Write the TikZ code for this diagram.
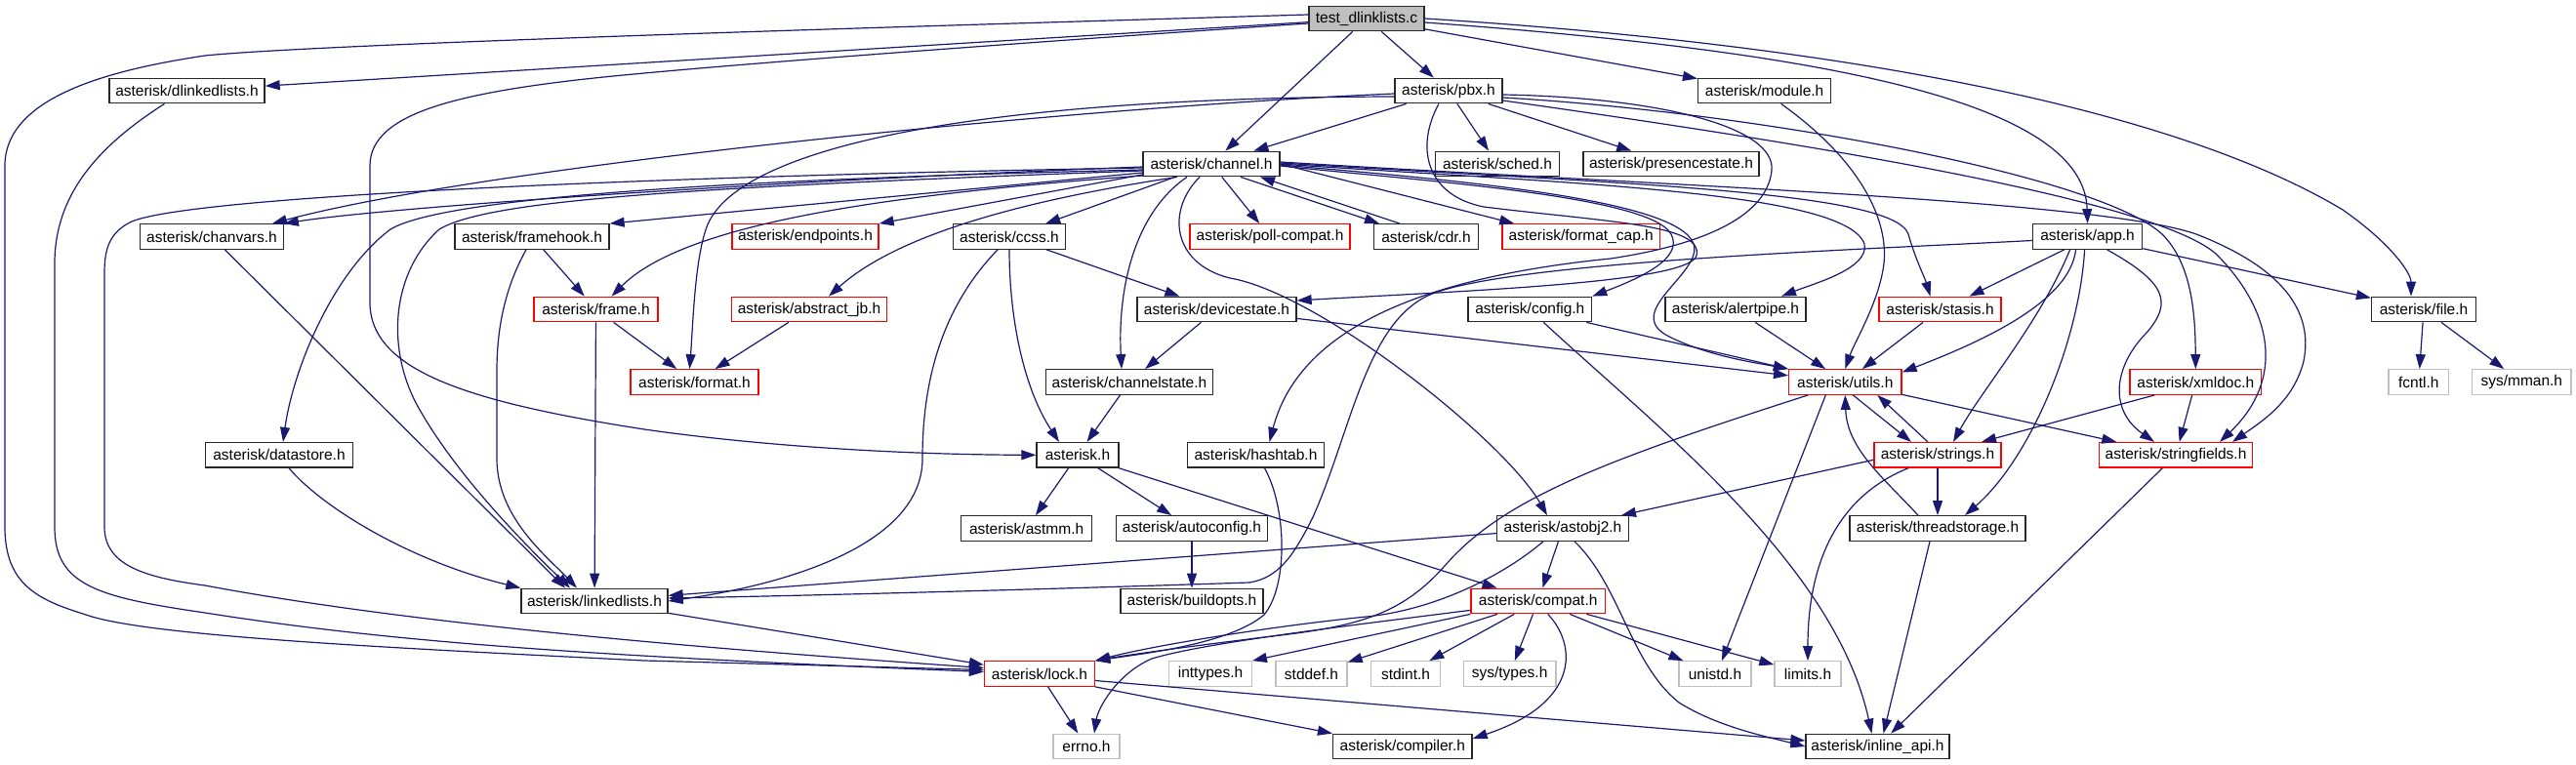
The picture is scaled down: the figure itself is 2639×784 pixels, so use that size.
\documentclass[tikz,border=0pt]{standalone}
\usepackage{fontspec}
\setmainfont{Liberation Sans}
\usetikzlibrary{arrows.meta}
\definecolor{edgeblue}{RGB}{25,25,112}
\definecolor{boxred}{RGB}{255,0,0}
\definecolor{boxgray}{RGB}{191,191,191}
\definecolor{boxblack}{RGB}{40,40,40}
\tikzset{
  hnode/.style={draw=boxblack, line width=1.3pt, rectangle, minimum height=25.5pt, inner sep=0pt, fill=white, font=\fontsize{15.5}{17}\selectfont},
  rednode/.style={hnode, draw=boxred},
  graynode/.style={hnode, draw=boxgray},
  rootnode/.style={hnode, fill=boxgray},
  edge/.style={draw=edgeblue, line width=1.2pt, -{Triangle[length=15pt,width=10pt]}}
}
\begin{document}
\begin{tikzpicture}[x=1pt,y=-1pt]
\useasboundingbox (0,0) rectangle (2639,784);
% nodes
\node[rootnode, minimum width=118pt] (root) at (1400,19) {test\_dlinklists.c};
\node[hnode, minimum width=159pt] (dll) at (191.5,93) {asterisk/dlinkedlists.h};
\node[hnode, minimum width=110pt] (pbx) at (1484,93) {asterisk/pbx.h};
\node[hnode, minimum width=136pt] (module) at (1807.6,93) {asterisk/module.h};
\node[hnode, minimum width=140pt] (channel) at (1241,168) {asterisk/channel.h};
\node[hnode, minimum width=127pt] (sched) at (1534,168) {asterisk/sched.h};
\node[hnode, minimum width=180pt] (presence) at (1712,168) {asterisk/presencestate.h};
\node[hnode, minimum width=146.5pt] (chanvars) at (217,242.5) {asterisk/chanvars.h};
\node[hnode, minimum width=158pt] (framehook) at (545,242.5) {asterisk/framehook.h};
\node[rednode, minimum width=150pt] (endpoints) at (825,242.5) {asterisk/endpoints.h};
\node[hnode, minimum width=115.5pt] (ccss) at (1034,242.5) {asterisk/ccss.h};
\node[rednode, minimum width=164pt] (pollc) at (1301,242.5) {asterisk/poll-compat.h};
\node[hnode, minimum width=107pt] (cdr) at (1461,242.5) {asterisk/cdr.h};
\node[rednode, minimum width=161.6pt] (fcap) at (1619.7,242.5) {asterisk/format\_cap.h};
\node[hnode, minimum width=112pt] (app) at (2138.6,242.5) {asterisk/app.h};
\node[rednode, minimum width=127pt] (frame) at (610.5,317) {asterisk/frame.h};
\node[rednode, minimum width=159pt] (ajb) at (829,317) {asterisk/abstract\_jb.h};
\node[hnode, minimum width=163pt] (devst) at (1246.5,317) {asterisk/devicestate.h};
\node[hnode, minimum width=126.6pt] (config) at (1567.3,317) {asterisk/config.h};
\node[hnode, minimum width=144pt] (alert) at (1778,317) {asterisk/alertpipe.h};
\node[rednode, minimum width=125pt] (stasis) at (1987.5,317) {asterisk/stasis.h};
\node[hnode, minimum width=107pt] (file) at (2483,317) {asterisk/file.h};
\node[rednode, minimum width=131pt] (format) at (711.5,391.5) {asterisk/format.h};
\node[hnode, minimum width=171pt] (chst) at (1157,391.5) {asterisk/channelstate.h};
\node[rednode, minimum width=115.4pt] (utils) at (1890.3,391.5) {asterisk/utils.h};
\node[rednode, minimum width=134.7pt] (xmldoc) at (2249.3,391.5) {asterisk/xmldoc.h};
\node[graynode, minimum width=61.6pt] (fcntl) at (2477.8,391.5) {fcntl.h};
\node[graynode, minimum width=101.4pt] (mman) at (2583.3,391.5) {sys/mman.h};
\node[hnode, minimum width=150.5pt] (dstore) at (286,466.3) {asterisk/datastore.h};
\node[hnode, minimum width=84pt] (ast) at (1104,466.3) {asterisk.h};
\node[hnode, minimum width=140pt] (hashtab) at (1286.5,466.3) {asterisk/hashtab.h};
\node[rednode, minimum width=130pt] (strings) at (1985,466.3) {asterisk/strings.h};
\node[rednode, minimum width=157.5pt] (sfields) at (2229,466.3) {asterisk/stringfields.h};
\node[hnode, minimum width=134.3pt] (astmm) at (1051.6,541.5) {asterisk/astmm.h};
\node[hnode, minimum width=155pt] (autoconf) at (1221,541.5) {asterisk/autoconfig.h};
\node[hnode, minimum width=134.7pt] (astobj) at (1601,541.5) {asterisk/astobj2.h};
\node[hnode, minimum width=180pt] (tstore) at (1985,541.5) {asterisk/threadstorage.h};
\node[hnode, minimum width=150pt] (llists) at (609,616) {asterisk/linkedlists.h};
\node[hnode, minimum width=146pt] (bopts) at (1221,616) {asterisk/buildopts.h};
\node[rednode, minimum width=137.6pt] (compat) at (1575.7,616) {asterisk/compat.h};
\node[rednode, minimum width=113pt] (lock) at (1065,690.5) {asterisk/lock.h};
\node[graynode, minimum width=84.5pt] (inttypes) at (1240,690.5) {inttypes.h};
\node[graynode, minimum width=73pt] (stddef) at (1343.5,690.5) {stddef.h};
\node[graynode, minimum width=70.7pt] (stdint) at (1440,690.5) {stdint.h};
\node[graynode, minimum width=94.7pt] (systypes) at (1546.6,690.5) {sys/types.h};
\node[graynode, minimum width=74pt] (unistd) at (1757,690.5) {unistd.h};
\node[graynode, minimum width=68pt] (limits) at (1852,690.5) {limits.h};
\node[graynode, minimum width=68pt] (errno) at (1113,765) {errno.h};
\node[hnode, minimum width=142.5pt] (compiler) at (1436.8,765) {asterisk/compiler.h};
\node[hnode, minimum width=147pt] (inline) at (1923.5,765) {asterisk/inline\_api.h};
% root edges
\draw[edge] (root) -- (dll);
\draw[edge] ([yshift=4pt]root.west) .. controls (900,28) and (330,45) .. (210,57) .. controls (110,72) and (5,100) .. (5,170) -- (5,540) .. controls (5,600) and (40,615) .. (88,630) .. controls (150,652) and (400,664) .. (660,677) -- ([yshift=4pt]lock.west);
\draw[edge] ([yshift=-5pt]root.west) .. controls (1100,40) and (800,62) .. (660,75) .. controls (470,92) and (379,115) .. (379,170) -- (379,310) .. controls (379,380) and (480,412) .. (660,440) .. controls (800,460) and (950,466) .. (ast.west);
\draw[edge] (root) -- (channel);
\draw[edge] (root) -- (pbx);
\draw[edge] (root) -- (module);
\draw[edge] ([yshift=-4pt]root.east) .. controls (1900,55) and (2135,110) .. (app.north);
\draw[edge] (root.east) .. controls (1950,50) and (2250,125) .. (2400,215) .. controls (2450,250) and (2470,280) .. ([xshift=-13pt]file.north);
% dlinkedlists
\draw[edge] ([xshift=-23pt]dll.south) .. controls (100,150) and (56,200) .. (56,270) -- (56,540) .. controls (56,600) and (100,612) .. (210,628) .. controls (400,658) and (600,672) .. ([yshift=2pt]lock.west);
% pbx
\draw[edge] (pbx) -- (channel);
\draw[edge] ([yshift=-3pt]pbx.west) .. controls (1100,110) and (500,170) .. ([xshift=-12pt]chanvars.north east);
\draw[edge] ([yshift=-6pt]pbx.west) .. controls (1000,100) and (760,150) .. (725,230) .. controls (712,262) and (710,330) .. ([xshift=-5pt]format.north);
\draw[edge] (pbx) -- (sched);
\draw[edge] (pbx) -- (presence);
\draw[edge] ([yshift=-4pt]pbx.east) .. controls (1700,100) and (1820,130) .. (1815,175) .. controls (1810,220) and (1750,250) .. (1650,265) .. controls (1450,285) and (1330,340) .. ([xshift=14pt]hashtab.north);
\draw[edge] ([yshift=-7pt]pbx.east) .. controls (1800,115) and (2150,180) .. (2215,240) .. controls (2245,270) and (2249,320) .. (xmldoc.north);
\draw[edge] ([yshift=-10pt]pbx.east) .. controls (1800,140) and (2200,200) .. (2270,260) .. controls (2330,320) and (2340,390) .. ([xshift=45pt]sfields.north);
\draw[edge] ([xshift=-10pt]pbx.south) .. controls (1450,150) and (1460,200) .. (1520,212) .. controls (1650,228) and (1745,230) .. (1738,262) .. controls (1730,290) and (1500,298) .. ([yshift=9pt]devst.east);
% module
\draw[edge] ([xshift=17pt]module.south) .. controls (1900,160) and (1935,220) .. (1930,270) .. controls (1925,310) and (1900,350) .. (utils.north);
% channel
\draw[edge] ([yshift=-4pt]channel.west) .. controls (700,180) and (200,200) .. (135,227) .. controls (112,238) and (107,255) .. (107,280) -- (107,540) .. controls (107,580) and (150,592) .. (210,600) .. controls (450,645) and (800,670) .. ([yshift=6pt]lock.west);
\draw[edge] ([yshift=-6pt]channel.west) .. controls (700,185) and (450,205) .. (400,235) .. controls (340,280) and (300,380) .. ([xshift=4pt]dstore.north);
\draw[edge] ([yshift=-7pt]channel.west) .. controls (700,192) and (500,205) .. (450,235) .. controls (400,280) and (395,360) .. (430,420) .. controls (470,490) and (540,560) .. ([xshift=-25pt]llists.north);
\draw[edge] ([yshift=-3pt]channel.west) .. controls (800,185) and (400,212) .. (chanvars.north east);
\draw[edge] ([yshift=-9pt]channel.west) -- (framehook.north east);
\draw[edge] ([yshift=-11pt]channel.west) -- (endpoints.north east);
\draw[edge] ([yshift=-12pt]channel.west) .. controls (900,200) and (700,230) .. ([xshift=16pt]frame.north);
\draw[edge] ([xshift=-35pt]channel.south) .. controls (1050,205) and (920,240) .. ([xshift=20pt]ajb.north);
\draw[edge] (channel) -- (ccss);
\draw[edge] (channel) -- (pollc);
\draw[edge] ([xshift=30pt]channel.south) -- ([xshift=-48pt]cdr.north);
\draw[edge] ([xshift=-27pt]cdr.north) -- ([xshift=50pt]channel.south);
\draw[edge] (channel.east) -- ([xshift=13pt]fcap.north west);
\draw[edge] ([xshift=-25pt]channel.south) .. controls (1160,220) and (1145,300) .. ([xshift=-8pt]chst.north);
\draw[edge] ([xshift=-12pt]channel.south) .. controls (1195,215) and (1200,270) .. (1260,285) .. controls (1350,300) and (1540,450) .. ([xshift=-16pt]astobj.north);
\draw[edge] ([yshift=-2pt]channel.east) .. controls (1450,185) and (1690,200) .. (1712,240) .. controls (1725,265) and (1680,285) .. (config.north east);
\draw[edge] ([yshift=-1pt]channel.east) .. controls (1500,185) and (1720,205) .. (1735,250) .. controls (1745,280) and (1660,320) .. (1710,345) .. controls (1750,365) and (1800,372) .. (utils.north west);
\draw[edge] (channel.east) .. controls (1600,188) and (1890,195) .. (1910,250) .. controls (1915,275) and (1860,290) .. ([xshift=47pt]alert.north);
\draw[edge] ([yshift=1pt]channel.east) .. controls (1650,188) and (1940,195) .. (1955,240) .. controls (1962,265) and (1972,285) .. ([xshift=-10pt]stasis.north);
\draw[edge] ([yshift=2pt]channel.east) .. controls (1700,190) and (2150,205) .. (2250,240) .. controls (2340,275) and (2370,320) .. (2360,370) .. controls (2350,410) and (2320,430) .. ([xshift=58pt]sfields.north);
% chanvars, framehook, frame, abstract_jb
\draw[edge] (chanvars) -- ([xshift=-30pt]llists.north);
\draw[edge] (framehook) -- (frame);
\draw[edge] ([xshift=-6pt]framehook.south) .. controls (520,290) and (509,330) .. (509,380) -- (509,470) .. controls (509,530) and (560,570) .. ([xshift=-18pt]llists.north);
\draw[edge] (frame) -- (format);
\draw[edge] (frame) -- (llists);
\draw[edge] (ajb) -- (format);
% ccss
\draw[edge] (ccss) -- (devst);
\draw[edge] (ccss.south) .. controls (1034,330) and (1050,400) .. ([xshift=-19pt]ast.north);
\draw[edge] ([xshift=-12pt]ccss.south) .. controls (960,320) and (945,400) .. (945,470) .. controls (945,560) and (800,600) .. (llists.east);
% devicestate, channelstate, datastore, linkedlists
\draw[edge] (devst) -- (chst);
\draw[edge] (devst) -- (utils);
\draw[edge] (chst) -- (ast);
\draw[edge] ([xshift=10pt]dstore.south) .. controls (330,520) and (420,575) .. (llists.north west);
\draw[edge] (llists) -- (lock);
% asterisk.h
\draw[edge] (ast) -- (astmm);
\draw[edge] (ast) -- (autoconf);
\draw[edge] (ast) -- (compat);
\draw[edge] (autoconf) -- (bopts);
% hashtab
\draw[edge] ([xshift=9pt]hashtab.south) .. controls (1318,520) and (1320,600) .. (1295,630) .. controls (1260,660) and (1170,670) .. (lock.north east);
% app
\draw[edge] ([yshift=-4pt]app.west) .. controls (1900,256) and (1560,268) .. (1470,300) .. controls (1400,325) and (1385,440) .. (1345,530) .. controls (1325,570) and (1310,592) .. (1280,597) .. controls (1100,603) and (850,610) .. ([yshift=3pt]llists.east);
\draw[edge] ([xshift=-24pt]app.south) -- ([xshift=30pt]stasis.north);
\draw[edge] ([xshift=-12pt]app.south) .. controls (2120,310) and (2030,350) .. ([yshift=10pt]utils.east);
\draw[edge] ([xshift=-18pt]app.south) .. controls (2090,330) and (2030,400) .. ([xshift=16pt]strings.north);
\draw[edge] ([xshift=-3pt]app.south) .. controls (2130,350) and (2080,470) .. ([xshift=28pt]tstore.north);
\draw[edge] ([xshift=20pt]app.south) .. controls (2220,290) and (2225,310) .. (2200,340) .. controls (2165,375) and (2160,420) .. ([xshift=-22pt]sfields.north);
\draw[edge] (app) -- (file);
% config, alertpipe, stasis, file
\draw[edge] (config) -- (utils);
\draw[edge] ([xshift=14pt]config.south) .. controls (1700,440) and (1880,580) .. ([xshift=-6pt]inline.north);
\draw[edge] (alert) -- (utils);
\draw[edge] (stasis) -- (utils);
\draw[edge] (file) -- (fcntl);
\draw[edge] (file) -- (mman);
% utils
\draw[edge] ([xshift=-38pt]utils.south) .. controls (1650,470) and (1540,510) .. (1480,580) .. controls (1440,625) and (1400,640) .. (1320,650) .. controls (1220,662) and (1150,672) .. (lock.north east);
\draw[edge] ([xshift=8pt]utils.south) -- ([xshift=-27pt]strings.north);
\draw[edge] (utils) -- (sfields);
\draw[edge] ([xshift=-20pt]utils.south) -- ([xshift=7pt]unistd.north);
% strings
\draw[edge] ([xshift=-10pt]strings.north) -- ([xshift=33pt]utils.south);
\draw[edge] (strings) -- (tstore);
\draw[edge] ([yshift=-5pt]strings.west) -- ([xshift=-8pt]astobj.north east);
\draw[edge] ([xshift=-30pt]strings.south) .. controls (1880,510) and (1852,580) .. (limits.north);
% xmldoc, stringfields, threadstorage
\draw[edge] ([xshift=-42pt]xmldoc.south) -- ([xshift=45pt]strings.north);
\draw[edge] (xmldoc) -- (sfields);
\draw[edge] (sfields) -- (inline);
\draw[edge] ([xshift=-20pt]tstore.north) .. controls (1930,490) and (1892,460) .. (utils.south);
\draw[edge] ([xshift=-8pt]tstore.south) -- ([xshift=6pt]inline.north);
% astobj2
\draw[edge] (astobj) -- (llists);
\draw[edge] (astobj) -- (compat);
\draw[edge] ([xshift=-20pt]astobj.south) .. controls (1540,590) and (1470,625) .. (1400,632) .. controls (1300,642) and (1180,662) .. (lock.north east);
\draw[edge] ([xshift=12pt]astobj.south) .. controls (1660,600) and (1670,680) .. (1720,720) .. controls (1760,745) and (1810,755) .. (inline.west);
% compat
\draw[edge] (compat.south west) -- (inttypes.north east);
\draw[edge] ([yshift=4pt]compat.south west) .. controls (1350,645) and (1230,660) .. (1180,675) .. controls (1145,690) and (1125,725) .. ([xshift=8pt]errno.north);
\draw[edge] (compat) -- (stddef);
\draw[edge] (compat) -- (stdint);
\draw[edge] (compat) -- (systypes);
\draw[edge] ([xshift=10pt]compat.south) .. controls (1615,660) and (1620,720) .. ([yshift=8pt]compiler.east);
\draw[edge] (compat) -- (unistd);
\draw[edge] (compat) -- (limits);
% lock
\draw[edge] (lock) -- (errno);
\draw[edge] (lock.south east) -- (compiler.north west);
\draw[edge] ([yshift=-7pt]lock.east) -- ([yshift=6pt]inline.west);
\end{tikzpicture}
\end{document}
